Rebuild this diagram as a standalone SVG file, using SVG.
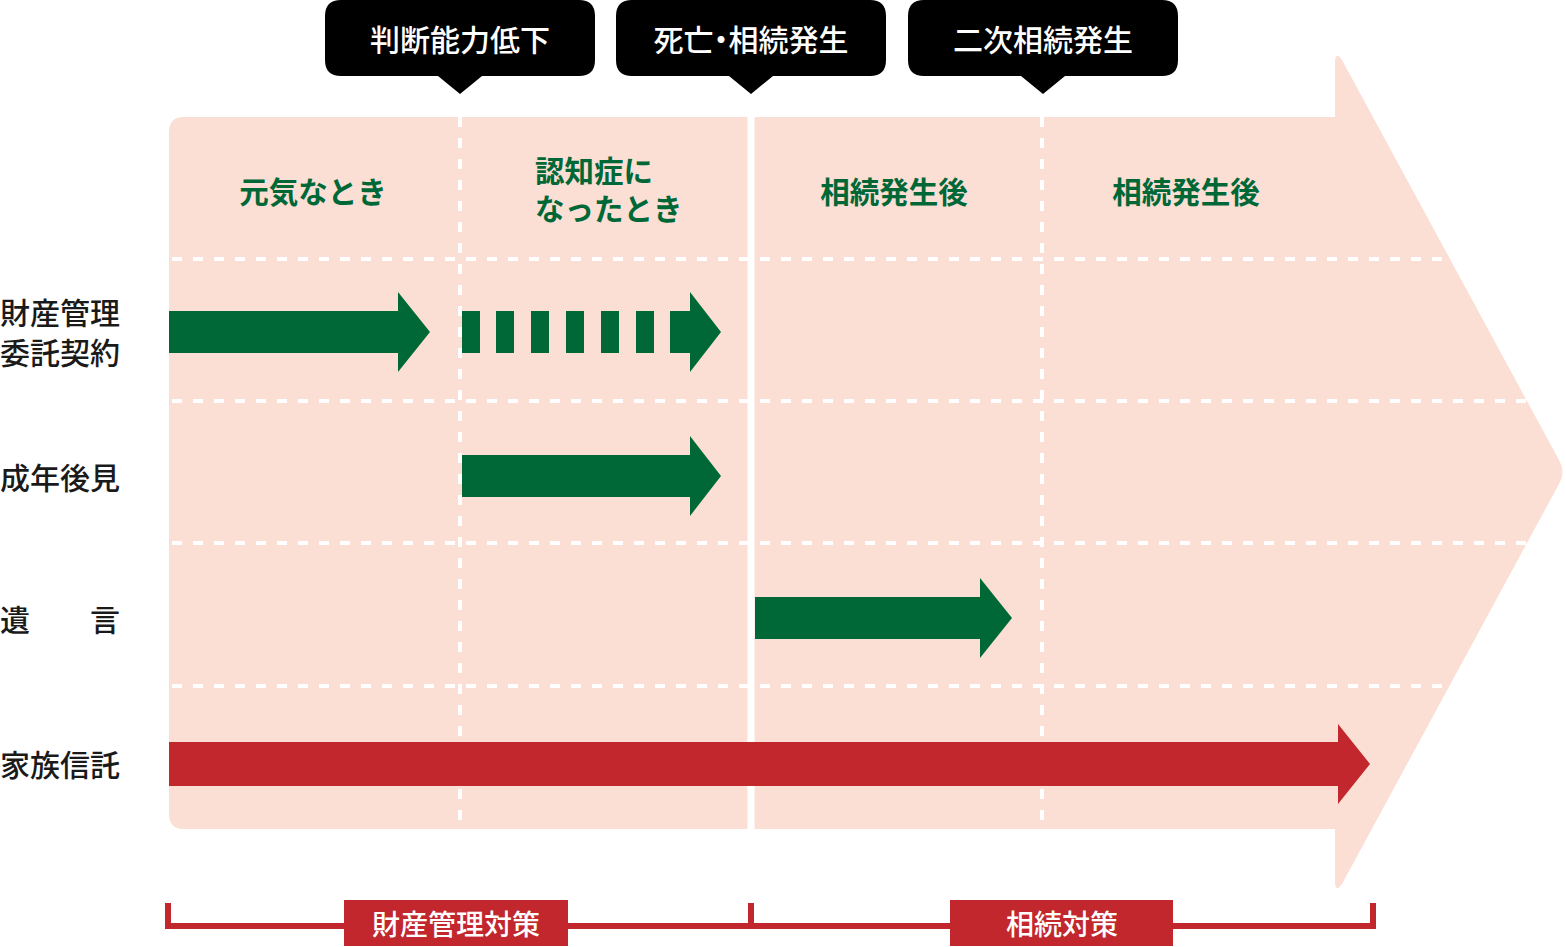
<svg xmlns="http://www.w3.org/2000/svg" width="1566" height="947" viewBox="0 0 1566 947">
<style>
  .jp { font-family: "Noto Sans CJK JP", "Noto Sans", sans-serif; }
  .callout-box { fill: #000; }
  .callout-text { fill: #fff; font-size: 30px; font-weight: 500; text-anchor: middle; }
  .palt { font-feature-settings: "palt" 1; }
  .col-text { fill: #006837; font-size: 29.5px; font-weight: 700; }
  .row-text { fill: #1a1a1a; font-size: 30px; font-weight: 500; }
  .grid-dash { stroke: #fff; stroke-width: 4; stroke-dasharray: 10 11; fill: none; }
  .grid-solid { stroke: #fff; stroke-width: 7; fill: none; }
  .green { fill: #006837; }
  .red { fill: #C1272D; }
  .bracket { stroke: #C1272D; stroke-width: 6; fill: none; }
  .label-text { fill: #fff; font-size: 28px; font-weight: 500; text-anchor: middle; }
</style>
<defs>
  <clipPath id="bgclip">
    <path id="bgpath" d="M184,117 L1335,117 L1335,64 Q1335,50 1342,60 L1559,460 Q1566,472 1559,484 L1342,884 Q1335,894 1335,880 L1335,829 L184,829 Q169,829 169,814 L169,132 Q169,117 184,117 Z"/>
  </clipPath>
</defs>

<g id="background">
  <use href="#bgpath" fill="#FBDED4"/>
</g>

<g id="grid" clip-path="url(#bgclip)">
  <line class="grid-dash" x1="172" y1="259" x2="1566" y2="259"/>
  <line class="grid-dash" x1="172" y1="401" x2="1566" y2="401"/>
  <line class="grid-dash" x1="172" y1="543" x2="1566" y2="543"/>
  <line class="grid-dash" x1="172" y1="686" x2="1566" y2="686"/>
  <line class="grid-dash" x1="460" y1="117" x2="460" y2="829"/>
  <line class="grid-dash" x1="1042" y1="117" x2="1042" y2="829"/>
  <line class="grid-solid" x1="751" y1="117" x2="751" y2="829"/>
</g>

<g id="callout-1">
  <path class="callout-box" d="M341,0 H579 Q595,0 595,16 V60 Q595,76 579,76 H482 L460,94 L438,76 H341 Q325,76 325,60 V16 Q325,0 341,0 Z"/>
  <text class="jp callout-text" x="460" y="51">判断能力低下</text>
</g>
<g id="callout-2">
  <path class="callout-box" d="M632,0 H870 Q886,0 886,16 V60 Q886,76 870,76 H773 L751,94 L729,76 H632 Q616,76 616,60 V16 Q616,0 632,0 Z"/>
  <text class="jp callout-text palt" x="751" y="51">死亡・相続発生</text>
</g>
<g id="callout-3">
  <path class="callout-box" d="M924,0 H1162 Q1178,0 1178,16 V60 Q1178,76 1162,76 H1065 L1043,94 L1021,76 H924 Q908,76 908,60 V16 Q908,0 924,0 Z"/>
  <text class="jp callout-text" x="1043" y="51">二次相続発生</text>
</g>

<g id="column-headers">
  <text class="jp col-text" x="313" y="203" text-anchor="middle">元気なとき</text>
  <text class="jp col-text" x="535" y="182">認知症に</text>
  <text class="jp col-text" x="535" y="220">なったとき</text>
  <text class="jp col-text" x="894" y="203" text-anchor="middle">相続発生後</text>
  <text class="jp col-text" x="1186" y="203" text-anchor="middle">相続発生後</text>
</g>

<g id="row-labels">
  <text class="jp row-text" x="0" y="324">財産管理</text>
  <text class="jp row-text" x="0" y="364">委託契約</text>
  <text class="jp row-text" x="0" y="489">成年後見</text>
  <text class="jp row-text" x="0" y="631">遺　　言</text>
  <text class="jp row-text" x="0" y="776">家族信託</text>
</g>

<g id="connectors">
  <g id="arrow-zaisan-solid">
    <path class="green" d="M169,311 H398 V292 L430,332 L398,372 V353 H169 Z"/>
  </g>
  <g id="arrow-zaisan-dashed">
    <rect class="green" x="462" y="311" width="18" height="42"/>
    <rect class="green" x="496" y="311" width="18" height="42"/>
    <rect class="green" x="531" y="311" width="18" height="42"/>
    <rect class="green" x="566" y="311" width="18" height="42"/>
    <rect class="green" x="601" y="311" width="18" height="42"/>
    <rect class="green" x="636" y="311" width="18" height="42"/>
    <path class="green" d="M670,311 H690 V292 L721,332 L690,372 V353 H670 Z"/>
  </g>
  <g id="arrow-kouken">
    <path class="green" d="M462,455 H690 V436 L721,476 L690,516 V497 H462 Z"/>
  </g>
  <g id="arrow-yuigon">
    <path class="green" d="M755,597 H980 V578 L1012,618 L980,658 V639 H755 Z"/>
  </g>
  <g id="arrow-shintaku">
    <path class="red" d="M169,742 H1338 V724 L1370,764 L1338,804 V786 H169 Z"/>
  </g>
</g>

<g id="bracket">
  <path class="bracket" d="M168,903 V926 H1373 V903"/>
  <line class="bracket" x1="751" y1="903" x2="751" y2="926"/>
</g>

<g id="label-zaisan">
  <rect class="red" x="344" y="900" width="224" height="46"/>
  <text class="jp label-text" x="456" y="935">財産管理対策</text>
</g>
<g id="label-souzoku">
  <rect class="red" x="950" y="900" width="223" height="46"/>
  <text class="jp label-text" x="1062" y="935">相続対策</text>
</g>
</svg>
